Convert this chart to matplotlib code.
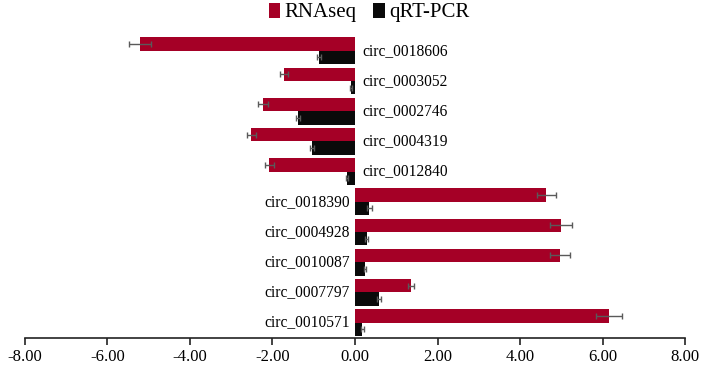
import matplotlib
matplotlib.use("Agg")
import matplotlib.pyplot as plt
from matplotlib.patches import Patch
import numpy as np

plt.rcParams['font.family'] = ['Liberation Serif', 'DejaVu Serif']
plt.rcParams['axes.unicode_minus'] = False

categories = ["circ_0018606", "circ_0003052", "circ_0002746", "circ_0004319", "circ_0012840",
              "circ_0018390", "circ_0004928", "circ_0010087", "circ_0007797", "circ_0010571"]
rnaseq = [-5.22, -1.72, -2.24, -2.51, -2.08, 4.64, 4.99, 4.97, 1.36, 6.16]
rnaseq_err = [0.27, 0.09, 0.12, 0.12, 0.11, 0.23, 0.26, 0.25, 0.07, 0.31]
qpcr = [-0.87, -0.10, -1.39, -1.04, -0.19, 0.35, 0.28, 0.24, 0.58, 0.18]
qpcr_err = [0.04, 0.03, 0.05, 0.04, 0.03, 0.05, 0.03, 0.03, 0.04, 0.03]
xticks = [-8, -6, -4, -2, 0, 2, 4, 6, 8]

red = '#A50026'
blk = '#0A0A0A'
errc = '#5A5A5A'

fig = plt.figure(figsize=(7.02, 3.72), dpi=100)
ax = fig.add_axes([0.0356, 0.0906, 0.9402, 0.8234])

y = np.arange(len(categories))
h = 0.444
ekw = dict(ecolor=errc, elinewidth=1.0, capsize=2.5, capthick=1.0)
ax.barh(y - h / 2, rnaseq, height=h, color=red, xerr=rnaseq_err, error_kw=ekw, zorder=2)
ax.barh(y + h / 2, qpcr, height=h, color=blk, xerr=qpcr_err, error_kw=ekw, zorder=2)

for yi, name, v in zip(y, categories, rnaseq):
    if v < 0:
        ax.text(0.19, yi, name, ha='left', va='center', fontsize=11.2)
    else:
        ax.text(-0.12, yi, name, ha='right', va='center', fontsize=11.2)

ax.set_xlim(-8, 8)
ax.set_ylim(9.52, -0.62)
ax.set_xticks(xticks)
ax.set_xticklabels([f"{t:.2f}" for t in xticks], fontsize=12)
ax.set_yticks([])
for s in ['top', 'right', 'left']:
    ax.spines[s].set_visible(False)
ax.spines['bottom'].set_linewidth(1.2)
ax.spines['bottom'].set_color('#222222')
ax.tick_params(axis='x', direction='out', length=5, width=1.2, color='#222222', pad=3)

handles = [Patch(facecolor=red, label='RNAseq'), Patch(facecolor=blk, label='qRT-PCR')]
fig.legend(handles=handles, loc='upper center', bbox_to_anchor=(369 / 702, 0.993), ncol=2,
           frameon=False, fontsize=15, handlelength=0.55, handleheight=0.75,
           handletextpad=0.2, columnspacing=0.8, borderpad=0, borderaxespad=0)

fig.savefig('out.png', dpi=100)
